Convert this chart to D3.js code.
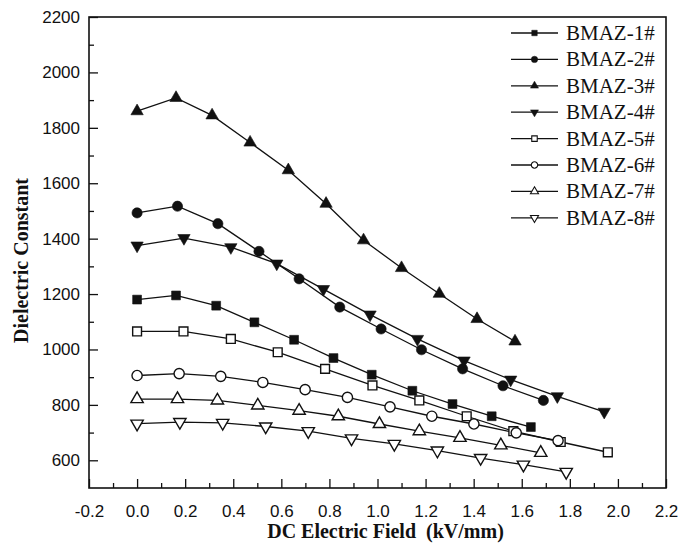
<!DOCTYPE html>
<html>
<head>
<meta charset="utf-8">
<script src="https://cdn.jsdelivr.net/npm/d3@7"></script>
<style>
  body { margin: 0; background: #fff; }
  .tick text { font-family: "Liberation Sans", Arial, sans-serif; font-size: 17px; fill: #111; }
  .axis path, .axis line { stroke: #111; }
</style>
</head>
<body>
<script>
//Series names and values
var names = ["BMAZ-1#", "BMAZ-2#", "BMAZ-3#", "BMAZ-4#", "BMAZ-5#", "BMAZ-6#", "BMAZ-7#", "BMAZ-8#"];

var field1 = [0, 0.162, 0.329, 0.488, 0.653, 0.817, 0.976, 1.145, 1.312, 1.475, 1.638];
var eps1 = [1180, 1195, 1158, 1098, 1035, 969, 909, 851, 803, 759, 720];
var field2 = [0, 0.168, 0.336, 0.507, 0.674, 0.843, 1.015, 1.183, 1.354, 1.522, 1.69];
var eps2 = [1493, 1517, 1454, 1354, 1255, 1153, 1074, 999, 930, 869, 816];
var field3 = [0, 0.162, 0.312, 0.47, 0.629, 0.786, 0.942, 1.1, 1.257, 1.414, 1.572];
var eps3 = [1860, 1908, 1845, 1747, 1647, 1526, 1394, 1294, 1201, 1110, 1029];
var field4 = [0, 0.195, 0.39, 0.581, 0.775, 0.969, 1.166, 1.36, 1.554, 1.748, 1.943];
var eps4 = [1375, 1402, 1369, 1310, 1218, 1126, 1038, 960, 891, 831, 775];
var field5 = [0, 0.193, 0.39, 0.585, 0.782, 0.979, 1.174, 1.371, 1.565, 1.762, 1.958];
var eps5 = [1065, 1065, 1038, 990, 930, 870, 816, 759, 705, 666, 629];
var field6 = [0, 0.175, 0.348, 0.523, 0.699, 0.875, 1.052, 1.226, 1.401, 1.577, 1.751];
var eps6 = [906, 913, 903, 881, 855, 827, 793, 759, 731, 699, 671];
var field7 = [0, 0.168, 0.334, 0.502, 0.674, 0.837, 1.008, 1.174, 1.343, 1.513, 1.679];
var eps7 = [821, 821, 816, 798, 779, 759, 731, 705, 681, 654, 627];
var field8 = [0, 0.178, 0.356, 0.535, 0.712, 0.892, 1.07, 1.249, 1.429, 1.607, 1.785];
var eps8 = [732, 738, 735, 722, 705, 679, 659, 635, 608, 584, 558];

//Tick values
var xTicks = [-0.2, 0, 0.2, 0.4, 0.6, 0.8, 1.0, 1.2, 1.4, 1.6, 1.8, 2.0, 2.2];
var yTicks = [600, 800, 1000, 1200, 1400, 1600, 1800, 2000, 2200];

var fields = [field1, field2, field3, field4, field5, field6, field7, field8];
var epsList = [eps1, eps2, eps3, eps4, eps5, eps6, eps7, eps8];

var series = names.map(function(n, i) {
	return {
		name: n,
		idx: i,
		values: fields[i].map(function(x, j) { return {x: x, y: epsList[i][j]}; })
	};
});

//Marker shapes: filled for 1-4, open for 5-8
var shapes = [d3.symbolSquare, d3.symbolCircle, d3.symbolTriangle, d3.symbolTriangle];
var plotSizes = [78, 82, 66, 66];
var legendSizes = [30, 32, 28, 28];
function shapeOf(i) { return shapes[i % 4]; }
function isDown(i) { return i % 4 === 3; }
function isOpen(i) { return i >= 4; }

//Margins
var margin = {top: 17, right: 13, bottom: 57, left: 89},
    width = 679 - margin.left - margin.right,
    height = 545 - margin.top - margin.bottom;

var svg = d3.select("body")
	.append("svg")
		.attr("width", 679)
		.attr("height", 545);

var g = svg.append("g")
	.attr("transform", "translate(" + margin.left + "," + margin.top + ")");

var xScale = d3.scaleLinear().domain([-0.2, 2.2]).range([0, width]);
var yScale = d3.scaleLinear().domain([500, 2200]).range([height, 0]);

//plain hyphen instead of unicode minus
var xFormat = function(d) { return d3.format(".1f")(d).replace("\u2212", "-"); };

//Minor ticks
g.append("g")
	.attr("class", "axis")
	.attr("transform", "translate(0," + height + ")")
	.call(d3.axisBottom(xScale).tickValues(d3.range(-0.1, 2.2, 0.2)).tickSize(-5).tickFormat(""))
	.call(function(s) { s.select(".domain").remove(); })
	.selectAll("line").attr("stroke-width", 1.3);

g.append("g")
	.attr("class", "axis")
	.call(d3.axisLeft(yScale).tickValues(d3.range(700, 2200, 200)).tickSize(-5).tickFormat(""))
	.call(function(s) { s.select(".domain").remove(); })
	.selectAll("line").attr("stroke-width", 1.3);

//Major ticks with labels
g.append("g")
	.attr("class", "axis")
	.attr("transform", "translate(0," + height + ")")
	.call(d3.axisBottom(xScale).tickValues(xTicks).tickSize(-9).tickPadding(17).tickFormat(xFormat))
	.call(function(s) { s.select(".domain").remove(); })
	.selectAll("line").attr("stroke-width", 1.3);

g.append("g")
	.attr("class", "axis")
	.call(d3.axisLeft(yScale).tickValues(yTicks).tickSize(-9).tickPadding(9).tickFormat(d3.format("d")))
	.call(function(s) { s.select(".domain").remove(); })
	.selectAll("line").attr("stroke-width", 1.3);

//Frame
g.append("rect")
	.attr("x", 0).attr("y", 0)
	.attr("width", width).attr("height", height)
	.attr("fill", "none")
	.attr("stroke", "#111")
	.attr("stroke-width", 1.6);

//Lines
var line = d3.line()
	.x(function(d) { return xScale(d.x); })
	.y(function(d) { return yScale(d.y); });

g.selectAll(".series-line")
	.data(series)
	.enter()
	.append("path")
		.attr("class", "series-line")
		.attr("d", function(d) { return line(d.values); })
		.attr("fill", "none")
		.attr("stroke", "#111")
		.attr("stroke-width", 1.3);

//Markers
series.forEach(function(s) {
	var sym = d3.symbol().type(shapeOf(s.idx)).size(plotSizes[s.idx % 4]);
	g.selectAll(".m" + s.idx)
		.data(s.values)
		.enter()
		.append("path")
			.attr("class", "m" + s.idx)
			.attr("d", sym)
			.attr("transform", function(d) {
				return "translate(" + xScale(d.x) + "," + yScale(d.y) + ")" + (isDown(s.idx) ? " rotate(180)" : "");
			})
			.attr("fill", isOpen(s.idx) ? "#fff" : "#111")
			.attr("stroke", "#111")
			.attr("stroke-width", isOpen(s.idx) ? 1.4 : 0.6);
});

//Legend
var legend = svg.append("g")
	.attr("transform", "translate(511,33)");

var rows = legend.selectAll(".row")
	.data(series)
	.enter()
	.append("g")
		.attr("class", "row")
		.attr("transform", function(d, i) { return "translate(0," + (i * 26.4) + ")"; });

rows.append("line")
	.attr("x1", 0).attr("x2", 47)
	.attr("y1", 0).attr("y2", 0)
	.attr("stroke", "#111")
	.attr("stroke-width", 1.3);

rows.append("path")
	.attr("d", function(d) { return d3.symbol().type(shapeOf(d.idx)).size(legendSizes[d.idx % 4])(); })
	.attr("transform", function(d) { return "translate(23.5,0)" + (isDown(d.idx) ? " rotate(180)" : ""); })
	.attr("fill", function(d) { return isOpen(d.idx) ? "#fff" : "#111"; })
	.attr("stroke", "#111")
	.attr("stroke-width", function(d) { return isOpen(d.idx) ? 1.1 : 0.5; });

rows.append("text")
	.attr("x", 55)
	.attr("y", 7)
	.style("font-family", "'Liberation Serif', 'Times New Roman', serif")
	.style("font-size", "21px")
	.attr("fill", "#111")
	.text(function(d) { return d.name; });

//Axis titles
svg.append("text")
	.attr("x", margin.left + width / 2 + 8)
	.attr("y", 538)
	.attr("text-anchor", "middle")
	.style("font-family", "'Liberation Serif', 'Times New Roman', serif")
	.style("font-weight", "bold")
	.style("font-size", "20px")
	.attr("fill", "#111")
	.attr("xml:space", "preserve")
	.text("DC Electric Field  (kV/mm)");

svg.append("text")
	.attr("transform", "translate(28," + (margin.top + height / 2 + 8) + ") rotate(-90)")
	.attr("text-anchor", "middle")
	.style("font-family", "'Liberation Serif', 'Times New Roman', serif")
	.style("font-weight", "bold")
	.style("font-size", "20px")
	.attr("fill", "#111")
	.text("Dielectric Constant");
</script>
</body>
</html>
